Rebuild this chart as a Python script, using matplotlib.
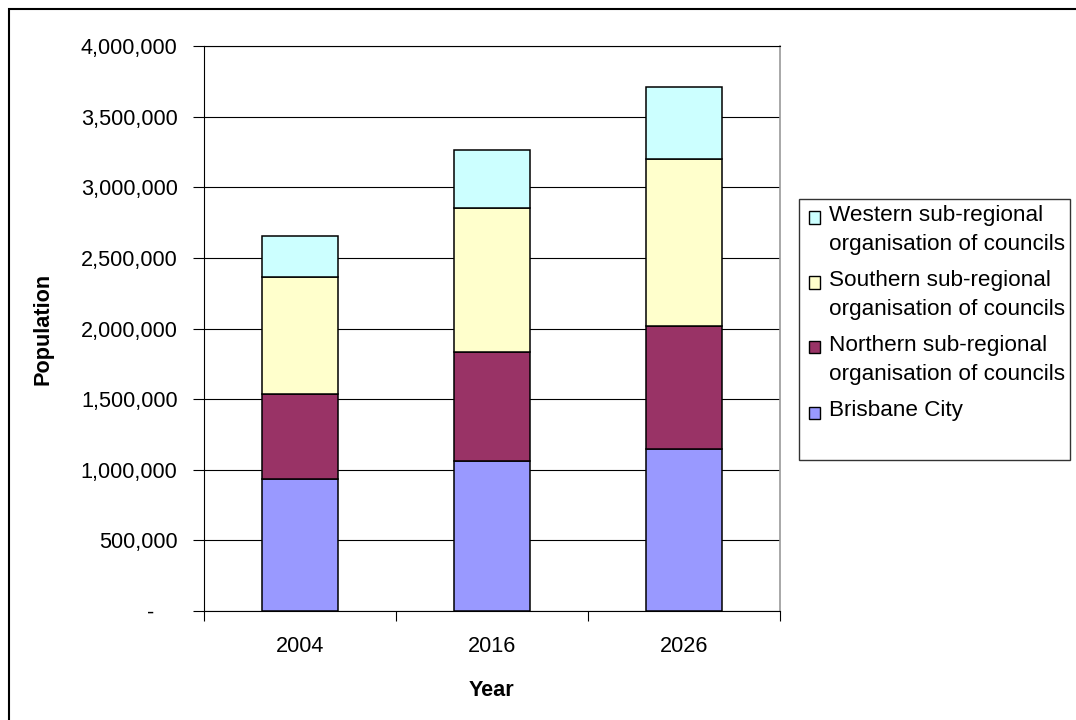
import numpy as np
import matplotlib.pyplot as plt
import matplotlib.transforms as mtransforms
from matplotlib.patches import Rectangle
from matplotlib.ticker import FuncFormatter, FixedLocator

plt.rcParams['font.family'] = ['Liberation Sans', 'DejaVu Sans']

# ---------------------------------------------------------
# data: population by sub-region (stacked)
# ---------------------------------------------------------

years = ["2004", "2016", "2026"]

brisbane = [935000, 1060000, 1147000]
northern = [599000, 773000, 869000]
southern = [833000, 1020000, 1183000]
western = [285000, 410000, 511000]

series_names = [
    "Brisbane City",
    "Northern sub-regional\norganisation of councils",
    "Southern sub-regional\norganisation of councils",
    "Western sub-regional\norganisation of councils",
]
series_values = [brisbane, northern, southern, western]
series_colors = ["#9999FF", "#993366", "#FFFFCC", "#CCFFFF"]

FS = 15.6
LEG_FS = 16.2

fig = plt.figure(figsize=(10.76, 7.2), dpi=100)
ax = fig.add_axes([204 / 1076, 1 - 611 / 720, 576 / 1076, 565 / 720])

x = np.arange(len(years))
bottom = np.zeros(len(years))

for name, vals, col in zip(series_names, series_values, series_colors):
    ax.bar(x, vals, width=0.4, bottom=bottom, color=col,
           edgecolor="black", linewidth=1.1, label=name, zorder=3)
    bottom += np.array(vals)

ax.set_xlim(-0.5, len(years) - 0.5)
ax.set_ylim(0, 4000000)

# y axis
ax.set_yticks(np.arange(0, 4000001, 500000))
ax.yaxis.set_major_formatter(FuncFormatter(
    lambda v, p: "-" if v == 0 else f"{int(v):,}"))
ax.tick_params(axis="y", direction="out", length=8, width=0.8,
               pad=11, labelsize=FS, colors="black")
ax.yaxis.grid(True, color="black", linewidth=0.8, zorder=0)
ax.set_axisbelow(True)

# shift the "-" label left like accounting format
zero_lab = ax.get_yticklabels()[0]
zero_lab.set_transform(zero_lab.get_transform() +
                       mtransforms.ScaledTranslation(-0.23, 0, fig.dpi_scale_trans))

# x axis: ticks between categories, labels at centres
ax.xaxis.set_major_locator(FixedLocator(np.arange(-0.5, len(years), 1.0)))
ax.xaxis.set_major_formatter(FuncFormatter(lambda v, p: ""))
ax.xaxis.set_minor_locator(FixedLocator(x))
ax.set_xticklabels(years, minor=True)
ax.tick_params(axis="x", which="major", direction="out", length=7, width=0.8)
ax.tick_params(axis="x", which="minor", length=0, pad=18, labelsize=FS)

for side in ["left", "bottom", "top"]:
    ax.spines[side].set_color("black")
    ax.spines[side].set_linewidth(0.8)
ax.spines["right"].set_color("#9a9a9a")
ax.spines["right"].set_linewidth(1.2)

ax.set_xlabel("Year", fontsize=FS, fontweight="bold")
ax.xaxis.set_label_coords(0.5, -0.123)
ax.xaxis.label.set_va("top")
ax.set_ylabel("Population", fontsize=FS, fontweight="bold")
ax.yaxis.set_label_coords(-0.262, 0.5)
ax.yaxis.label.set_va("bottom")

# legend box (drawn by hand so the swatch sits on the first text line)
W, H = 1076, 720
fig.patches.append(Rectangle((799 / W, 1 - 460 / H), 271 / W, 261 / H,
                             transform=fig.transFigure, fill=False,
                             edgecolor="#333333", linewidth=1.0))
row_y = [217, 282, 347, 412]
for i, (name, col) in enumerate(zip(series_names[::-1], series_colors[::-1])):
    yc = row_y[i]
    fig.patches.append(Rectangle((809 / W, 1 - (yc + 6.5) / H), 11 / W, 12 / H,
                                 transform=fig.transFigure, facecolor=col,
                                 edgecolor="black", linewidth=1.0))
    fig.text(829 / W, 1 - (yc - 12) / H, name, fontsize=LEG_FS, va="top",
             ha="left", linespacing=1.5)

# outer chart border
fig.patches.append(Rectangle((9 / W, -0.5), 1.5, (1 - 9 / H) + 0.5,
                             transform=fig.transFigure, fill=False,
                             edgecolor="black", linewidth=1.5))

fig.savefig("out.png", dpi=100)
